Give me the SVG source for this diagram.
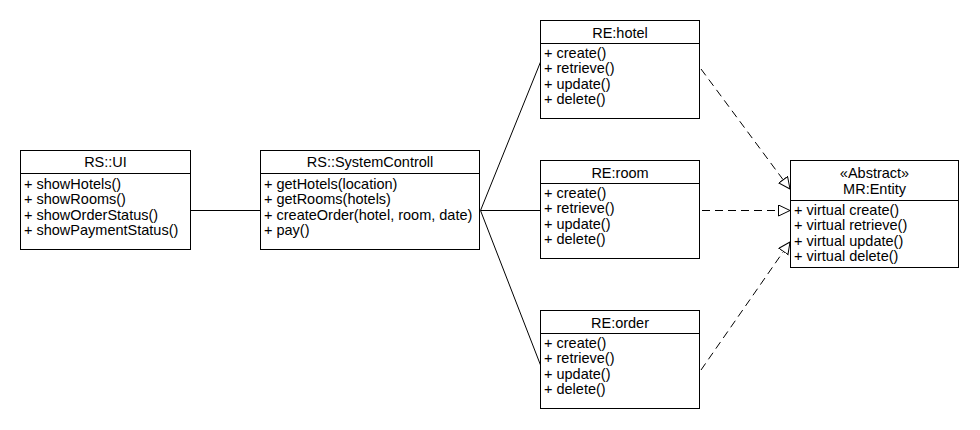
<svg xmlns="http://www.w3.org/2000/svg" width="980" height="430" viewBox="0 0 980 430">
<defs>
<style>
.box{fill:#fff;stroke:#000;stroke-width:1}
.t{font-family:"Liberation Sans",Arial,sans-serif;font-size:14.5px;fill:#000}
.c{text-anchor:middle}
.ln{fill:none;stroke:#000;stroke-width:1}
.dash{fill:none;stroke:#000;stroke-width:1;stroke-dasharray:8,5}
</style>
<marker id="tri" markerWidth="14" markerHeight="14" refX="12" refY="6" orient="auto" markerUnits="userSpaceOnUse">
<path d="M0.5,0.5 L12,6 L0.5,11.5 Z" fill="#fff" stroke="#000" stroke-width="1"/>
</marker>
</defs>
<rect width="980" height="430" fill="#fff"/>
<g id="connectors">
<line class="ln" x1="190.5" y1="210.5" x2="260.5" y2="210.5"/>
<line class="ln" x1="480.5" y1="210.5" x2="540.5" y2="62"/>
<line class="ln" x1="480.5" y1="210.5" x2="540.5" y2="210.5"/>
<line class="ln" x1="480.5" y1="210.5" x2="540.5" y2="365"/>
<line class="dash" x1="701" y1="69" x2="790" y2="189" marker-end="url(#tri)"/>
<line class="dash" x1="702" y1="210.5" x2="790" y2="210.5" marker-end="url(#tri)"/>
<line class="dash" x1="701" y1="370" x2="790" y2="242" marker-end="url(#tri)"/>
</g>
<g id="ui">
<rect class="box" x="20.5" y="150.5" width="170" height="99"/>
<line class="ln" x1="20.5" y1="173.5" x2="190.5" y2="173.5"/>
<text class="t c" x="105.5" y="167">RS::UI</text>
<text class="t" x="24" y="188.5">+ showHotels()</text>
<text class="t" x="24" y="204">+ showRooms()</text>
<text class="t" x="24" y="219.5">+ showOrderStatus()</text>
<text class="t" x="24" y="235">+ showPaymentStatus()</text>
</g>
<g id="systemcontroll">
<rect class="box" x="260.5" y="150.5" width="219" height="99"/>
<line class="ln" x1="260.5" y1="173.5" x2="479.5" y2="173.5"/>
<text class="t c" x="370" y="167">RS::SystemControll</text>
<text class="t" x="264" y="188.5">+ getHotels(location)</text>
<text class="t" x="264" y="204">+ getRooms(hotels)</text>
<text class="t" x="264" y="219.5">+ createOrder(hotel, room, date)</text>
<text class="t" x="264" y="235">+ pay()</text>
</g>
<g id="hotel">
<rect class="box" x="540.5" y="20.5" width="159" height="98"/>
<line class="ln" x1="540.5" y1="43.5" x2="699.5" y2="43.5"/>
<text class="t c" x="620" y="37.5">RE:hotel</text>
<text class="t" x="544" y="57.5">+ create()</text>
<text class="t" x="544" y="73">+ retrieve()</text>
<text class="t" x="544" y="88.5">+ update()</text>
<text class="t" x="544" y="104">+ delete()</text>
</g>
<g id="room">
<rect class="box" x="540.5" y="160.5" width="159" height="98"/>
<line class="ln" x1="540.5" y1="183.5" x2="699.5" y2="183.5"/>
<text class="t c" x="620" y="177.5">RE:room</text>
<text class="t" x="544" y="197.5">+ create()</text>
<text class="t" x="544" y="213">+ retrieve()</text>
<text class="t" x="544" y="228.5">+ update()</text>
<text class="t" x="544" y="244">+ delete()</text>
</g>
<g id="order">
<rect class="box" x="540.5" y="310.5" width="159" height="98"/>
<line class="ln" x1="540.5" y1="333.5" x2="699.5" y2="333.5"/>
<text class="t c" x="620" y="327.5">RE:order</text>
<text class="t" x="544" y="347.5">+ create()</text>
<text class="t" x="544" y="363">+ retrieve()</text>
<text class="t" x="544" y="378.5">+ update()</text>
<text class="t" x="544" y="394">+ delete()</text>
</g>
<g id="entity">
<rect class="box" x="790.5" y="160.5" width="168" height="107"/>
<line class="ln" x1="790.5" y1="200.5" x2="958.5" y2="200.5"/>
<text class="t c" x="874.5" y="178">«Abstract»</text>
<text class="t c" x="874.5" y="193.5">MR:Entity</text>
<text class="t" x="794" y="214.5">+ virtual create()</text>
<text class="t" x="794" y="230">+ virtual retrieve()</text>
<text class="t" x="794" y="245.5">+ virtual update()</text>
<text class="t" x="794" y="261">+ virtual delete()</text>
</g>
</svg>
